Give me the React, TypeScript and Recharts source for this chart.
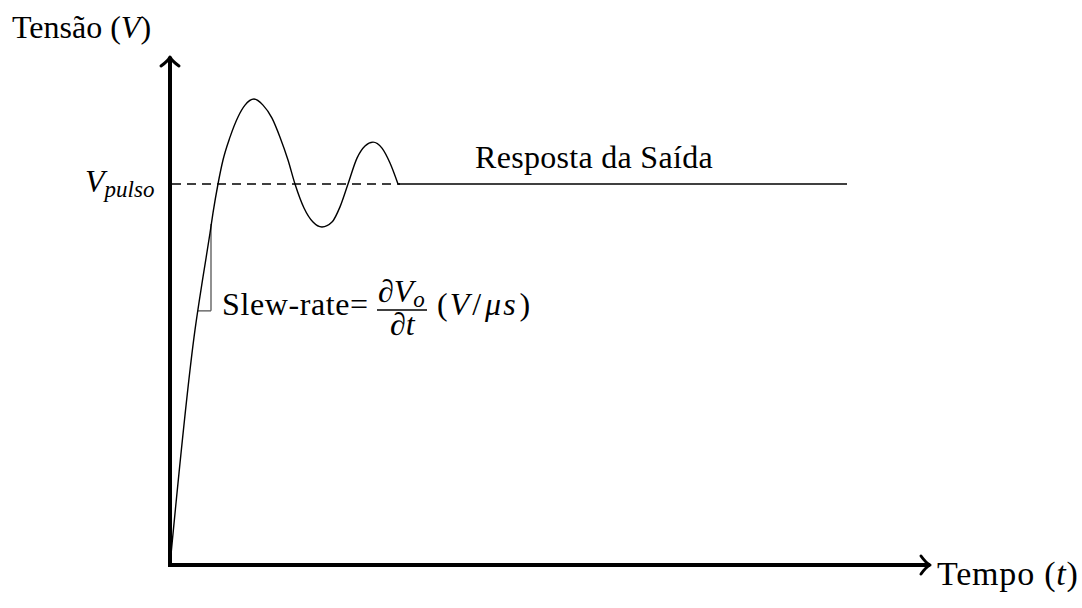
import { ComposedChart, Line, XAxis, YAxis, ReferenceLine } from 'recharts'

// time axis (µs) and output voltage normalised to V_pulso = 1
const responseTime = [
  0, 0.25, 0.33, 0.4, 0.43, 0.48, 0.53, 0.6, 0.68, 0.75, 0.84, 0.93, 1.02, 1.1,
  1.18, 1.25, 1.34, 1.43, 1.52, 1.62, 1.7, 1.78, 1.87, 1.95, 2.03, 2.12, 2.2, 2.28,
]
const responseVolt = [
  0, 0.617, 0.756, 0.871, 0.924, 1.0, 1.063, 1.123, 1.176, 1.207, 1.223, 1.207, 1.173, 1.123,
  1.063, 1.0, 0.937, 0.9, 0.887, 0.9, 0.94, 1.0, 1.068, 1.1, 1.11, 1.094, 1.055, 1.0,
]
const settledTime = [2.28, 6.77]
const settledVolt = [1, 1]

const vPulso = 1
const pulsoLineEnd = 2.3
const tMax = 7.6
const vMax = 4 / 3

// slew-rate triangle drawn against the rising edge
const slewTop = { t: 0.41, v: 0.895 }
const slewBottom = { t: 0.41, v: 0.667 }
const slewLeft = { t: 0.28, v: 0.667 }

const response = responseTime.map((t, i) => ({ t, v: responseVolt[i] }))
const settled = settledTime.map((t, i) => ({ t, v: settledVolt[i] }))

const serif = { fontFamily: "'Liberation Serif', 'Times New Roman', serif" }

const axisShape = (dir: 'up' | 'right') => (props: any) => {
  const { x1, y1, x2, y2 } = props
  const head =
    dir === 'up'
      ? `M${x2 - 9},${y2 + 9} Q${x2 - 2},${y2 + 4} ${x2},${y2} Q${x2 + 2},${y2 + 4} ${x2 + 9},${y2 + 9}`
      : `M${x2 - 9},${y2 - 9} Q${x2 - 4},${y2 - 2} ${x2},${y2} Q${x2 - 4},${y2 + 2} ${x2 - 9},${y2 + 9}`
  const ex = dir === 'right' ? x2 - 2 : x2
  const ey = dir === 'up' ? y2 + 2 : y2
  return (
    <g>
      <line x1={x1} y1={y1} x2={ex} y2={ey} stroke="#000" strokeWidth={4} strokeLinecap="square" />
      <path d={head} fill="none" stroke="#000" strokeWidth={3} strokeLinecap="round" strokeLinejoin="round" />
    </g>
  )
}

export default function App() {
  return (
    <div style={{ width: 1082, height: 608, background: '#fff' }}>
      <style>{'body{margin:0}'}</style>
      <ComposedChart width={1082} height={608} margin={{ top: 57, right: 152, bottom: 43, left: 170 }}>
        <XAxis type="number" dataKey="t" domain={[0, tMax]} hide allowDataOverflow />
        <YAxis type="number" dataKey="v" domain={[0, vMax]} hide allowDataOverflow />

        <ReferenceLine
          segment={[{ x: 0.02, y: vPulso }, { x: pulsoLineEnd, y: vPulso }]}
          stroke="#000"
          strokeWidth={1.4}
          strokeDasharray="9 6"
        />
        <ReferenceLine segment={[{ x: slewTop.t, y: slewTop.v }, { x: slewBottom.t, y: slewBottom.v }]} stroke="#555" strokeWidth={1.3} />
        <ReferenceLine segment={[{ x: slewLeft.t, y: slewLeft.v }, { x: slewBottom.t, y: slewBottom.v }]} stroke="#555" strokeWidth={1.3} />

        <Line data={response} dataKey="v" type="monotone" stroke="#000" strokeWidth={1.4} dot={false} activeDot={false} isAnimationActive={false} />
        <Line data={settled} dataKey="v" type="linear" stroke="#000" strokeWidth={1.4} dot={false} activeDot={false} isAnimationActive={false} />

        <ReferenceLine segment={[{ x: 0, y: 0 }, { x: 0, y: vMax }]} ifOverflow="visible" shape={axisShape('up')} />
        <ReferenceLine segment={[{ x: 0, y: 0 }, { x: tMax, y: 0 }]} ifOverflow="visible" shape={axisShape('right')} />

        <text x={12} y={38} fontSize={32} style={serif}>
          Tensão (<tspan fontStyle="italic">V</tspan>)
        </text>
        <text x={937} y={585} fontSize={34} letterSpacing={0.8} style={serif}>
          Tempo (<tspan fontStyle="italic">t</tspan>)
        </text>
        <text x={475} y={168} fontSize={32} letterSpacing={0.3} style={serif}>
          Resposta da Saída
        </text>
        <text x={85} y={192} fontSize={32} fontStyle="italic" style={serif}>
          V<tspan fontSize={23} dy={5}>pulso</tspan>
        </text>
        <text x={222} y={315} fontSize={32} letterSpacing={0.6} style={serif}>
          Slew-rate=
        </text>
        <text x={378} y={302} fontSize={32} style={serif}>
          ∂<tspan fontStyle="italic">V</tspan>
          <tspan fontStyle="italic" fontSize={23} dy={5}>o</tspan>
        </text>
        <line x1={377} y1={310} x2={427} y2={310} stroke="#000" strokeWidth={1.3} />
        <text x={390} y={335} fontSize={32} style={serif}>
          ∂<tspan fontStyle="italic">t</tspan>
        </text>
        <text x={437} y={315} fontSize={32} style={serif}>
          (<tspan fontStyle="italic" dx={2}>V</tspan>
          <tspan dx={3}>/</tspan>
          <tspan fontStyle="italic" dx={4}>μ</tspan>
          <tspan fontStyle="italic" dx={2}>s</tspan>
          <tspan dx={4}>)</tspan>
        </text>
      </ComposedChart>
    </div>
  )
}
